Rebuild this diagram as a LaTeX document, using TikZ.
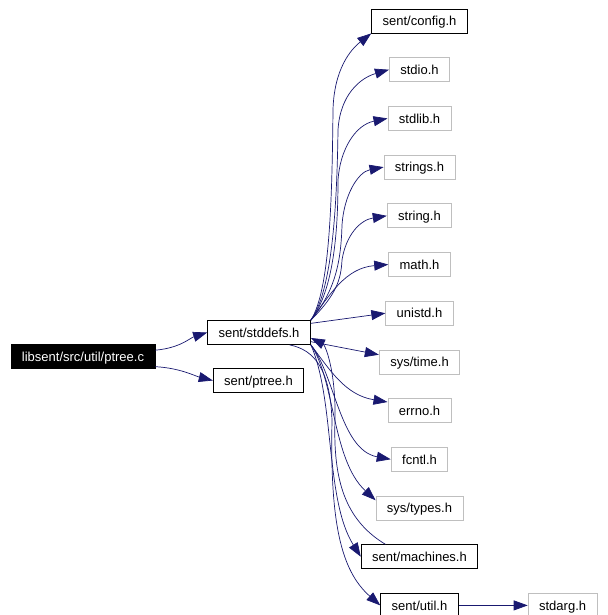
\documentclass[tikz,border=0pt]{standalone}
\usepackage{fontspec}
\setmainfont{Liberation Sans}
\usetikzlibrary{positioning,arrows.meta}
\definecolor{edgeblue}{RGB}{25,25,112}
\definecolor{sysgrey}{RGB}{191,191,191}
\begin{document}
\begin{tikzpicture}[x=1pt,y=-1pt,node distance=23.9pt,line width=0.8pt,
		main node/.style = {draw,rectangle,inner xsep=11pt,inner ysep=0pt,minimum height=24pt,
			text height=9.4pt,text depth=0pt,font=\fontsize{13}{15}\selectfont},
		sys node/.style = {main node,draw=sysgrey},
		src node/.style = {main node,fill=black,text=white},
		inc/.style = {-{Triangle[length=14pt,width=10pt]},draw=edgeblue,line width=0.7pt}]
	\useasboundingbox (0,0) rectangle (607,615);
	
	\node[src node] at (83,356.5) (ptreec) {libsent/src/util/ptree.c};
	\node[main node] at (259,332.5) (stddefs) {sent/stddefs.h};
	\node[main node] at (258.5,380.5) (ptreeh) {sent/ptree.h};
	
	\node[main node] at (419.5,21) (config) {sent/config.h};
	\node[sys node] [below = of config](stdio) {stdio.h};
	\node[sys node] [below = of stdio](stdlib) {stdlib.h};
	\node[sys node] [below = of stdlib](strings) {strings.h};
	\node[sys node] [below = of strings](string) {string.h};
	\node[sys node] [below = of string](math) {math.h};
	\node[sys node] [below = of math](unistd) {unistd.h};
	\node[sys node] [below = of unistd](systime) {sys/time.h};
	\node[sys node] [below = of systime](errno) {errno.h};
	\node[sys node] [below = of errno](fcntl) {fcntl.h};
	\node[sys node] [below = of fcntl](systypes) {sys/types.h};
	\node[main node] [below = of systypes](machines) {sent/machines.h};
	\node[main node] [below = of machines](util) {sent/util.h};
	\node[sys node] [right = 69pt of util](stdarg) {stdarg.h};
	
	\draw[inc] (ptreec.5) .. controls (180,348) and (190,338) .. (stddefs.west);
	\draw[inc] (ptreec.-8) .. controls (180,368) and (195,376) .. (ptreeh.west);
	
	\draw[inc] (stddefs.north east) .. controls (330,290) and (332,200) .. (333,110) .. controls (334,70) and (350,50) .. (config.south west);
	\draw[inc] (stddefs.north east) .. controls (333,290) and (337,200) .. (338,130) .. controls (340,95) and (360,78) .. (stdio.west);
	\draw[inc] (stddefs.north east) .. controls (334,290) and (338,230) .. (338,180) .. controls (340,150) and (355,125) .. (stdlib.west);
	\draw[inc] (stddefs.north east) .. controls (336,290) and (341,260) .. (342,225) .. controls (344,195) and (358,172) .. (strings.west);
	\draw[inc] (stddefs.north east) .. controls (336,295) and (341,280) .. (342,260) .. controls (346,235) and (360,220) .. (string.west);
	\draw[inc] (stddefs.north east) .. controls (330,295) and (345,268) .. (math.west);
	\draw[inc] (stddefs.10) -- (unistd.west);
	\draw[inc] (stddefs.-10) -- (systime.170);
	\draw[inc] (stddefs.south east) .. controls (330,370) and (345,395) .. (errno.165);
	\draw[inc] (stddefs.south east) .. controls (335,375) and (340,450) .. (fcntl.west);
	\draw[inc] (stddefs.south east) .. controls (335,380) and (332,460) .. (systypes.170);
	\draw[inc] (stddefs.south east) .. controls (335,400) and (325,500) .. (machines.west);
	\draw[inc] (stddefs.-22) .. controls (315,350) and (330,370) .. (332,420) .. controls (330,520) and (340,570) .. (util.west);
	\draw[inc] (machines.160) .. controls (345,520) and (333,480) .. (335,420) .. controls (336,370) and (325,345) .. (stddefs.-6);
	
	\draw[inc] (util) -- (stdarg);
\end{tikzpicture}
\end{document}
